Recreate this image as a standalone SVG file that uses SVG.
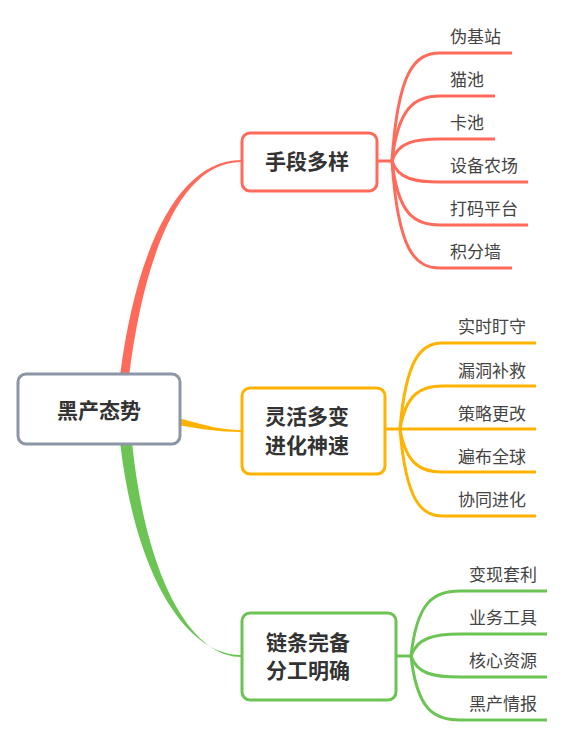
<svg xmlns="http://www.w3.org/2000/svg" width="584" height="739" viewBox="0 0 584 739">
<style>
.box{fill:#fff;stroke-width:3}
.ntext{font-family:"Noto Sans CJK SC","Noto Sans",sans-serif;font-size:21px;font-weight:700;fill:#333;dominant-baseline:central}
.ltext{font-family:"Noto Sans CJK SC","Noto Sans",sans-serif;font-size:17px;fill:#444;dominant-baseline:central}
.r{stroke:#FF6B5B;fill:none;stroke-width:3}
.y{stroke:#FFB300;fill:none;stroke-width:3}
.g{stroke:#6CC454;fill:none;stroke-width:3}
</style>
<rect width="584" height="739" fill="#fff"/>
<g id="connectors">
  <path d="M120,376 C136,250 178,160 241,160 L241,162 C182,162 145,250 129,376 Z" fill="#FF6B5B"/>
  <path d="M178,418 C205,425 220,430 242,430 L242,432 C218,432 200,429 178,425 Z" fill="#FFB300"/>
  <path d="M120,442 C136,580 188,655 241,655 L241,657 C192,657 146,580 132,442 Z" fill="#6CC454"/>
  <g class="r">
    <path d="M377,161 H392"/>
    <path d="M392,161 C398,70 415,53 440,53 H512"/>
    <path d="M392,161 C398,107 415,96 440,96 H495"/>
    <path d="M392,161 C398,142 415,139 440,139 H495"/>
    <path d="M392,161 C398,179 415,182 440,182 H528"/>
    <path d="M392,161 C398,215 415,225 440,225 H528"/>
    <path d="M392,161 C398,251 415,268 440,268 H512"/>
  </g>
  <g class="y">
    <path d="M385,429 H536"/>
    <path d="M400,429 C406,357 422,343 442,343 H536"/>
    <path d="M400,429 C406,393 422,386 442,386 H536"/>
    <path d="M400,429 C406,465 422,472 442,472 H536"/>
    <path d="M400,429 C406,502 422,516 442,516 H536"/>
  </g>
  <g class="g">
    <path d="M396,656 H411"/>
    <path d="M411,656 C417,601 434,591 460,591 H547"/>
    <path d="M411,656 C417,638 434,634 460,634 H547"/>
    <path d="M411,656 C417,674 434,677 460,677 H547"/>
    <path d="M411,656 C417,710 434,720 460,720 H547"/>
  </g>
</g>
<g id="root">
  <rect class="box" x="18" y="374" width="162" height="70" rx="8" stroke="#8C96A6"/>
  <text class="ntext" x="99" y="408.5" text-anchor="middle">黑产态势</text>
</g>
<g id="n1">
  <rect class="box" x="242" y="133" width="135" height="58" rx="8" stroke="#FF6B5B"/>
  <text class="ntext" x="265" y="160">手段多样</text>
</g>
<g id="n2">
  <rect class="box" x="242" y="388" width="143" height="86" rx="8" stroke="#FFB300"/>
  <text class="ntext" x="265" y="415">灵活多变</text>
  <text class="ntext" x="265" y="444">进化神速</text>
</g>
<g id="n3">
  <rect class="box" x="242" y="613" width="154" height="87" rx="8" stroke="#6CC454"/>
  <text class="ntext" x="266" y="641">链条完备</text>
  <text class="ntext" x="266" y="669">分工明确</text>
</g>
<g id="leaves1">
  <text class="ltext" x="450" y="35">伪基站</text>
  <text class="ltext" x="450" y="78">猫池</text>
  <text class="ltext" x="450" y="121">卡池</text>
  <text class="ltext" x="450" y="164">设备农场</text>
  <text class="ltext" x="450" y="207">打码平台</text>
  <text class="ltext" x="450" y="250">积分墙</text>
</g>
<g id="leaves2">
  <text class="ltext" x="458" y="325">实时盯守</text>
  <text class="ltext" x="458" y="369">漏洞补救</text>
  <text class="ltext" x="458" y="412">策略更改</text>
  <text class="ltext" x="458" y="455">遍布全球</text>
  <text class="ltext" x="458" y="498">协同进化</text>
</g>
<g id="leaves3">
  <text class="ltext" x="469" y="573">变现套利</text>
  <text class="ltext" x="469" y="616">业务工具</text>
  <text class="ltext" x="469" y="659">核心资源</text>
  <text class="ltext" x="469" y="702">黑产情报</text>
</g>
</svg>
